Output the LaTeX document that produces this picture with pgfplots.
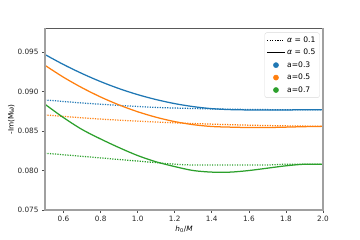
\documentclass[border=0pt]{standalone}
\usepackage{fontspec}
\setmainfont{DejaVu Sans}
\usepackage{pgfplots}
\pgfplotsset{compat=1.18}
\definecolor{tblue}{HTML}{1F77B4}
\definecolor{torange}{HTML}{FF7F0E}
\definecolor{tgreen}{HTML}{2CA02C}
\definecolor{spine}{HTML}{A0A0A0}
\begin{document}
\begin{tikzpicture}[x=1pt,y=1pt]
\path[use as bounding box] (0,0) rectangle (360,240);
\begin{axis}[
  at={(45pt,30pt)}, anchor=south west,
  scale only axis, width=278pt, height=181.5pt,
  xmin=0.5, xmax=2.0, ymin=0.075, ymax=0.098,
  xtick={0.6,0.8,1.0,1.2,1.4,1.6,1.8,2.0},
  ytick={0.075,0.080,0.085,0.090,0.095},
  xticklabel style={/pgf/number format/.cd,fixed,fixed zerofill,precision=1},
  yticklabel style={/pgf/number format/.cd,fixed,fixed zerofill,precision=3},
  /pgf/number format/assume math mode=true,
  scaled y ticks=false,
  tick align=outside, tick pos=left,
  major tick length=3pt,
  tick style={black!70, line width=0.6pt},
  axis line style={draw=none},
  ticklabel style={font=\fontsize{7.3}{8.5}\selectfont, text=black!85},
  xlabel={\textit{h}\textsubscript{0}/\textit{M}},
  ylabel={-Im(Mω)},
  label style={font=\fontsize{7.3}{8.5}\selectfont},
  xlabel style={yshift=3pt},
  ylabel style={yshift=-4pt},
  legend style={at={(rel axis cs:0.988,0.978)}, anchor=north east,
    font=\fontsize{7.6}{9}\selectfont, draw=black!15, rounded corners=2pt,
    fill=white, fill opacity=0.8, text opacity=1, draw opacity=1, row sep=1.3pt,
    inner sep=2pt},
  legend image post style={fill opacity=1, draw opacity=1},
  legend cell align=left,
  clip=false,
]
\addlegendimage{black, line width=1.1pt, dash pattern=on 1pt off 1.5pt}
\addlegendentry{\textit{α} = 0.1}
\addlegendimage{black, line width=1.3pt}
\addlegendentry{\textit{α} = 0.5}
\addlegendimage{only marks, mark=*, mark size=2.6pt, tblue, mark options={draw=tblue, fill=tblue, fill opacity=1}}
\addlegendentry{a=0.3}
\addlegendimage{only marks, mark=*, mark size=2.6pt, torange, mark options={draw=torange, fill=torange, fill opacity=1}}
\addlegendentry{a=0.5}
\addlegendimage{only marks, mark=*, mark size=2.6pt, tgreen, mark options={draw=tgreen, fill=tgreen, fill opacity=1}}
\addlegendentry{a=0.7}

% alpha = 0.1 (dotted)
\addplot[forget plot, tblue, line width=1.25pt, dash pattern=on 1.2pt off 1.3pt, smooth] coordinates {
(0.5,0.08895)(0.6,0.08875)(0.7,0.08856)(0.8,0.08840)(0.9,0.08825)(1.0,0.08812)(1.1,0.08800)(1.2,0.08792)(1.3,0.08786)(1.4,0.08781)(1.5,0.08777)(1.6,0.08774)(1.7,0.08772)(1.8,0.08770)(1.9,0.08770)(2.0,0.08770)};
\addplot[forget plot, torange, line width=1.25pt, dash pattern=on 1.2pt off 1.3pt, smooth] coordinates {
(0.5,0.08705)(0.6,0.08686)(0.7,0.08668)(0.8,0.08652)(0.9,0.08638)(1.0,0.08626)(1.1,0.08615)(1.2,0.08605)(1.3,0.08596)(1.4,0.08588)(1.5,0.08581)(1.6,0.08575)(1.7,0.08570)(1.8,0.08566)(1.9,0.08563)(2.0,0.08560)};
\addplot[forget plot, tgreen, line width=1.25pt, dash pattern=on 1.2pt off 1.3pt, smooth] coordinates {
(0.5,0.0822)(0.6,0.0820)(0.7,0.0818)(0.8,0.0816)(0.9,0.0814)(1.0,0.0812)(1.1,0.0810)(1.2,0.0808)(1.3,0.0807)(1.4,0.0807)(1.5,0.0807)(1.6,0.0807)(1.7,0.0807)(1.8,0.0808)(1.9,0.0808)(2.0,0.0808)};
% alpha = 0.5 (solid)
\addplot[forget plot, tblue, line width=1.25pt, smooth] coordinates {
(0.5,0.0947)(0.6,0.09343)(0.7,0.09229)(0.8,0.09127)(0.9,0.09038)(1.0,0.08962)(1.1,0.08899)(1.2,0.08848)(1.3,0.08810)(1.4,0.08784)(1.5,0.08772)(1.6,0.08768)(1.7,0.08767)(1.8,0.08768)(1.9,0.08770)(2.0,0.08770)};
\addplot[forget plot, torange, line width=1.25pt, smooth] coordinates {
(0.5,0.09333)(0.6,0.09182)(0.7,0.09049)(0.8,0.08932)(0.9,0.08831)(1.0,0.08745)(1.1,0.08675)(1.2,0.08620)(1.3,0.08581)(1.4,0.08558)(1.5,0.08550)(1.6,0.08545)(1.7,0.08545)(1.8,0.08550)(1.9,0.08556)(2.0,0.08560)};
\addplot[forget plot, tgreen, line width=1.25pt, smooth] coordinates {
(0.5,0.0884)(0.6,0.0867)(0.7,0.0852)(0.8,0.0840)(0.9,0.0829)(1.0,0.0819)(1.1,0.0811)(1.2,0.0805)(1.3,0.0800)(1.4,0.0798)(1.5,0.0798)(1.6,0.0800)(1.7,0.0803)(1.8,0.0806)(1.9,0.0808)(2.0,0.0808)};

\draw[black!65, line width=0.8pt] (rel axis cs:0,1) -- (rel axis cs:1,1);
\draw[spine, line width=1.6pt] (rel axis cs:0,1) -- (rel axis cs:0,0) -- (rel axis cs:1,0) -- (rel axis cs:1,1);
\end{axis}
\end{tikzpicture}
\end{document}
